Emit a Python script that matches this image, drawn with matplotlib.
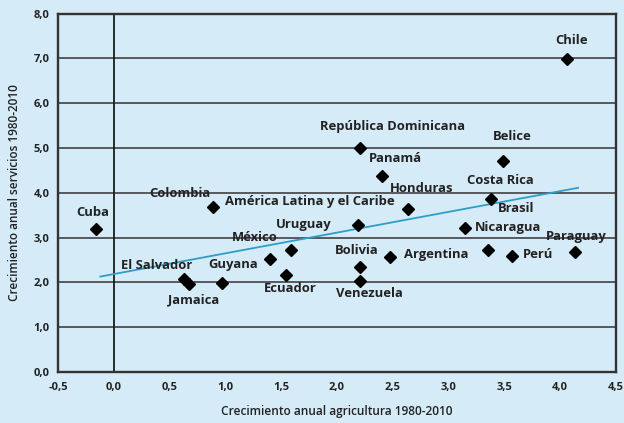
import matplotlib
matplotlib.use("Agg")
import matplotlib.pyplot as plt
import numpy as np

# ---- data ----
countries = ["Chile", "República Dominicana", "Panamá", "Belice", "Costa Rica",
             "Honduras", "Brasil", "América Latina y el Caribe", "Colombia", "Cuba",
             "Uruguay", "México", "Nicaragua", "Paraguay", "Perú", "Argentina",
             "Bolivia", "Venezuela", "Ecuador", "Guyana", "El Salvador", "Jamaica"]
agri = [4.06, 2.21, 2.40, 3.49, 3.38, 2.64, 3.35, 2.19, 0.89, -0.16,
        1.59, 1.40, 3.15, 4.13, 3.57, 2.475, 2.21, 2.21, 1.54, 0.97, 0.63, 0.67]
serv = [6.98, 5.00, 4.38, 4.71, 3.86, 3.64, 2.72, 3.28, 3.68, 3.19,
        2.72, 2.52, 3.21, 2.68, 2.59, 2.57, 2.34, 2.03, 2.17, 1.99, 2.07, 1.97]
trend_x = [-0.12, 4.16]
trend_y = [2.13, 4.11]
xticks = [-0.5, 0.0, 0.5, 1.0, 1.5, 2.0, 2.5, 3.0, 3.5, 4.0, 4.5]
yticks = [0, 1, 2, 3, 4, 5, 6, 7, 8]
xlabel = "Crecimiento anual agricultura 1980-2010"
ylabel = "Crecimiento anual servicios 1980-2010"

# label offsets in pixels (layout only)
label_offsets = {
    "Chile": (5, 19), "República Dominicana": (32, 21), "Panamá": (14, 17),
    "Belice": (9, 24), "Costa Rica": (9, 19), "Honduras": (13, 20),
    "Brasil": (28, 42), "América Latina y el Caribe": (-48, 24),
    "Colombia": (-33, 14), "Cuba": (-3, 17), "Uruguay": (12, 26),
    "México": (-15, 22), "Nicaragua": (43, 1), "Paraguay": (2, 15),
    "Perú": (26, 1), "Argentina": (46, 2), "Bolivia": (-4, 17),
    "Venezuela": (9, -12), "Ecuador": (5, -14), "Guyana": (11, 18),
    "El Salvador": (-27, 14), "Jamaica": (5, -16),
}

bg = "#d6ebf8"
dark = "#222222"
plt.rcParams['font.family'] = ['Open Sans', 'DejaVu Sans']

fig = plt.figure(figsize=(6.24, 4.23), dpi=100, facecolor=bg)
ax = fig.add_axes([58/624, 1 - 372/423, 558/624, (372 - 13.5)/423])
ax.set_facecolor(bg)

ax.set_xlim(-0.5, 4.5)
ax.set_ylim(0, 8)
ax.set_xticks(xticks)
ax.set_yticks(yticks)
ax.set_xticklabels([f"{v:.1f}".replace(".", ",") for v in xticks])
ax.set_yticklabels([f"{v:.1f}".replace(".", ",") for v in yticks])
ax.tick_params(length=0, labelsize=8, colors=dark)
ax.tick_params(axis='y', pad=6)
ax.tick_params(axis='x', pad=7)
for lab in ax.get_xticklabels() + ax.get_yticklabels():
    lab.set_fontweight('bold')

for yv in yticks[1:-1]:
    ax.axhline(yv, color="#333333", lw=1.1, zorder=1)
ax.axvline(0, color="#1a1a1a", lw=1.3, zorder=1)
for sp in ax.spines.values():
    sp.set_color("#333333")
    sp.set_linewidth(1.7)

ax.plot(trend_x, trend_y, color="#2f9dc8", lw=1.3, zorder=2)
ax.plot(agri, serv, linestyle='none', marker='D', markersize=6.5,
        color='black', zorder=3)

for name, x, y in zip(countries, agri, serv):
    dx, dy = label_offsets[name]
    ax.annotate(name, (x, y), xytext=(dx, dy), textcoords='offset pixels',
                ha='center', va='center', fontsize=9.4, fontweight='bold',
                color=dark, zorder=4)

ax.set_xlabel(xlabel, fontsize=8.6, fontweight='semibold', color=dark)
ax.set_ylabel(ylabel, fontsize=8.5, fontweight='semibold', color=dark)
ax.xaxis.set_label_coords(0.5, -0.092)
ax.yaxis.set_label_coords(-0.066, 0.5)

fig.savefig("out.png", dpi=100, facecolor=bg)
